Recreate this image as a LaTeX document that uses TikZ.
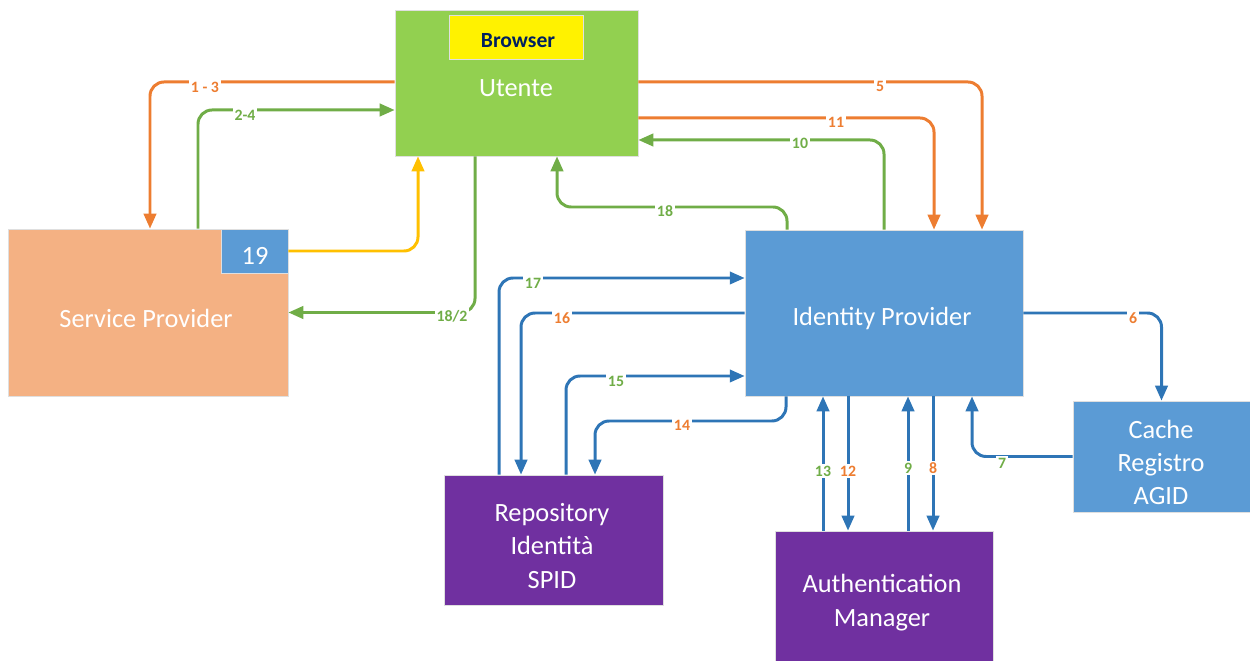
\documentclass[tikz,border=0pt]{standalone}
\usepackage{fontspec}
\setmainfont{Carlito}
\usetikzlibrary{arrows.meta}
\definecolor{lineorange}{HTML}{ED7D31}
\definecolor{linegreen}{HTML}{70AD47}
\definecolor{lineblue}{HTML}{2E75B6}
\definecolor{lineyellow}{HTML}{FFC000}
\definecolor{utgreen}{HTML}{92D050}
\definecolor{sporange}{HTML}{F4B183}
\definecolor{idpblue}{HTML}{5B9BD5}
\definecolor{mgpurple}{HTML}{7030A0}
\definecolor{navy}{HTML}{002060}
\tikzset{
  x=0.02cm, y=-0.02cm,
  box/.style={draw=gray!25, line width=0.4pt, inner sep=0pt},
  boxtext/.style={text=white, align=center, inner sep=0pt,
    font=\fontsize{15}{19}\selectfont},
  flow/.style={line width=1.7pt, rounded corners=8pt,
    -{Triangle[length=8.5pt,width=7pt]}},
  lbl/.style={fill=white, inner sep=1pt, font=\fontsize{9}{10}\selectfont\bfseries},
}
\begin{document}
\begin{tikzpicture}
  \useasboundingbox (0,0) rectangle (1250,661);

  \node[box, fill=utgreen, minimum width=4.86cm, minimum height=2.92cm] (ut) at (516.5,83) {};
  \node[box, fill=yellow, minimum width=2.68cm, minimum height=0.88cm] (br) at (516,37) {};
  \node[box, fill=sporange, minimum width=5.6cm, minimum height=3.34cm] (sp) at (148,312.5) {};
  \node[box, fill=idpblue, minimum width=1.34cm, minimum height=0.88cm] (b19) at (254.5,251) {};
  \node[box, fill=idpblue, minimum width=5.56cm, minimum height=3.32cm] (idp) at (884,313) {};
  \node[box, fill=idpblue, minimum width=3.54cm, minimum height=2.22cm] (cache) at (1161.5,456.5) {};
  \node[box, fill=mgpurple, minimum width=4.38cm, minimum height=2.6cm] (rep) at (553.5,540) {};
  \node[box, fill=mgpurple, minimum width=4.36cm, minimum height=2.6cm] (am) at (884,596) {};

  \node[text=navy, font=\fontsize{12.3}{14}\selectfont\bfseries] (brtxt) at (518,41) {Browser};
  \node[boxtext] (uttxt) at (516,88) {Utente};
  \node[boxtext] (sptxt) at (146,318) {Service Provider};
  \node[boxtext] (t19) at (255,256) {19};
  \node[boxtext] (idptxt) at (882,318) {Identity Provider};
  \node[boxtext, font=\fontsize{15}{18.8}\selectfont] (cachetxt) at (1161,462) {Cache\\Registro\\AGID};
  \node[boxtext, font=\fontsize{15}{19}\selectfont] (reptxt) at (552,546) {Repository\\Identità\\SPID};
  \node[boxtext, font=\fontsize{15}{19.3}\selectfont] (amtxt) at (882,603) {Authentication\\Manager};

  \draw[flow, lineorange] (ut.west |- 0,82) -| (sp.north -| 150,0);
  \draw[flow, linegreen] (sp.north -| 198,0) |- (ut.west |- 0,110);
  \draw[flow, lineyellow] (b19.east) -| (ut.south -| 418,0);
  \draw[flow, linegreen] (ut.south -| 475,0) |- (sp.east);
  \draw[flow, linegreen] (idp.north -| 787,0) |- (557,207) -- (ut.south -| 557,0);
  \draw[flow, linegreen] (idp.north -| 884,0) |- (ut.east |- 0,140);
  \draw[flow, lineorange] (ut.east |- 0,118) -| (idp.north -| 934,0);
  \draw[flow, lineorange] (ut.east |- 0,82) -| (idp.north -| 982,0);

  \draw[flow, lineblue] (rep.north -| 499,0) |- (idp.west |- 0,278);
  \draw[flow, lineblue] (idp.west) -| (rep.north -| 521,0);
  \draw[flow, lineblue] (rep.north -| 566,0) |- (idp.west |- 0,376);
  \draw[flow, lineblue] (idp.south -| 786,0) |- (595,421) -- (rep.north -| 595,0);
  \draw[flow, lineblue] (idp.east) -| (cache.north);
  \draw[flow, lineblue] (cache.west) -| (idp.south -| 972,0);
  \draw[flow, lineblue] (am.north -| 823,0) -- (idp.south -| 823,0);
  \draw[flow, lineblue] (idp.south -| 848,0) -- (am.north -| 848,0);
  \draw[flow, lineblue] (am.north -| 908,0) -- (idp.south -| 908,0);
  \draw[flow, lineblue] (idp.south -| 933,0) -- (am.north -| 933,0);

  \node[lbl, text=lineorange] (l13) at (205,87) {1 - 3};
  \node[lbl, text=linegreen] (l24) at (245,115) {2-4};
  \node[lbl, text=linegreen] (l182) at (452,316) {18/2};
  \node[lbl, text=linegreen] (l18) at (665,211) {18};
  \node[lbl, text=linegreen] (l10) at (800,143) {10};
  \node[lbl, text=lineorange] (l11) at (836,122) {11};
  \node[lbl, text=lineorange] (l5) at (880,86) {5};
  \node[lbl, text=linegreen] (l17) at (533,283) {17};
  \node[lbl, text=lineorange] (l16) at (562,318) {16};
  \node[lbl, text=linegreen] (l15) at (616,381) {15};
  \node[lbl, text=lineorange] (l14) at (682,425) {14};
  \node[lbl, text=lineorange] (l6) at (1133,318) {6};
  \node[lbl, text=linegreen] (l7) at (1002,463) {7};
  \node[lbl, text=linegreen] (l13b) at (823,471) {13};
  \node[lbl, text=lineorange] (l12) at (848,471) {12};
  \node[lbl, text=linegreen] (l9) at (908,468) {9};
  \node[lbl, text=lineorange] (l8) at (933,468) {8};
\end{tikzpicture}
\end{document}
